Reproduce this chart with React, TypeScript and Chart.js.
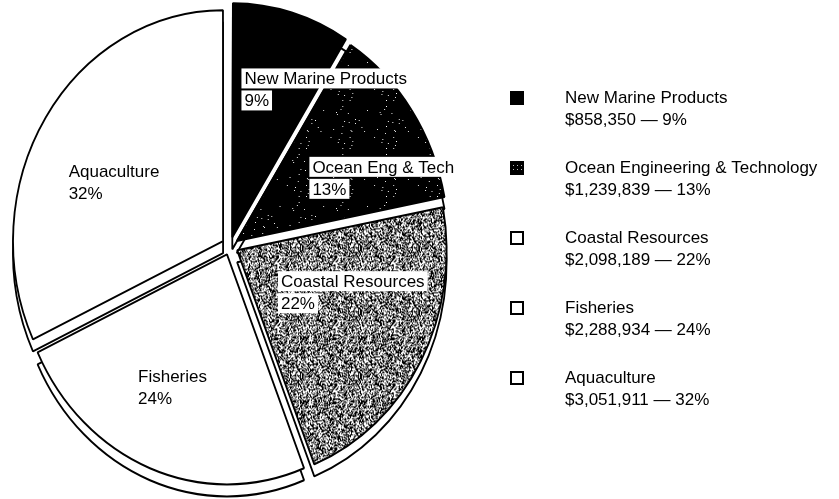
import React, { useEffect, useRef } from 'react';
import { Chart, registerables } from 'chart.js';

Chart.register(...registerables);

// ---- data ----
const categories = [
  'New Marine Products',
  'Ocean Engineering & Technology',
  'Coastal Resources',
  'Fisheries',
  'Aquaculture',
];
const sliceLabels = ['New Marine Products', 'Ocean Eng & Tech', 'Coastal Resources', 'Fisheries', 'Aquaculture'];
const fundingValues = [858350, 1239839, 2098189, 2288934, 3051911];

// ---- styling / layout ----
const FONT = '17px "Liberation Sans", Arial, Helvetica, sans-serif';
const X_SCALE = 0.91;
const DEPTH = 12;
const OFFSET_PX = 9;
const LINE_H = 22;
// label placement inside slices: t = fraction along slice angle, r = fraction of radius
const LABEL_LAYOUT = [
  { t: 1.046, r: 0.82 },
  { t: 0.76, r: 0.79 },
  { t: 0.375, r: 0.62 },
  { t: 0.53, r: 0.67 },
  { t: 0.45, r: 0.62 },
];
const LEGEND = { boxX: 510, textX: 565, firstBaseline: 103, step: 70, box: 14 };

function hash(x: number, y: number, seed: number) {
  let h = (Math.imul(x, 374761393) + Math.imul(y, 668265263) + Math.imul(seed, 1442695041)) | 0;
  h = Math.imul(h ^ (h >>> 13), 1274126177);
  h = h ^ (h >>> 16);
  return (h >>> 0) / 4294967295;
}

function makePattern(ctx: CanvasRenderingContext2D, size: number, seed: number, blackProb: number) {
  const c = document.createElement('canvas');
  c.width = size;
  c.height = size;
  const g = c.getContext('2d')!;
  const img = g.createImageData(size, size);
  for (let y = 0; y < size; y++) {
    for (let x = 0; x < size; x++) {
      const v = hash(x, y, seed) < blackProb ? 0 : 255;
      const k = (y * size + x) * 4;
      img.data[k] = v;
      img.data[k + 1] = v;
      img.data[k + 2] = v;
      img.data[k + 3] = 255;
    }
  }
  g.putImageData(img, 0, 0);
  return ctx.createPattern(c, 'repeat')!;
}

function makeDotPattern(ctx: CanvasRenderingContext2D) {
  const c = document.createElement('canvas');
  c.width = 4;
  c.height = 4;
  const g = c.getContext('2d')!;
  g.fillStyle = '#000';
  g.fillRect(0, 0, 4, 4);
  g.fillStyle = '#bbb';
  g.fillRect(1, 1, 1, 1);
  return ctx.createPattern(c, 'repeat')!;
}

export default function App() {
  const canvasRef = useRef<HTMLCanvasElement | null>(null);

  useEffect(() => {
    const canvas = canvasRef.current;
    if (!canvas) return;
    const ctx0 = canvas.getContext('2d')!;
    const oceanFill = makePattern(ctx0, 48, 7, 0.988);
    const coastalFill = makePattern(ctx0, 64, 3, 0.52);
    const legendOcean = makeDotPattern(ctx0);
    const sliceFills: any[] = ['#000000', oceanFill, coastalFill, '#ffffff', '#ffffff'];
    const legendFills: any[] = ['#000000', legendOcean, '#ffffff', '#ffffff', '#ffffff'];

    const total = fundingValues.reduce((a, b) => a + b, 0);
    const pct = fundingValues.map((v) => Math.round((v / total) * 100));

    const piePlugin = {
      id: 'pie3d',
      beforeDatasetsDraw(chart: any) {
        const meta = chart.getDatasetMeta(0);
        const ctx = chart.ctx as CanvasRenderingContext2D;
        ctx.save();
        if (!meta.data.length) return;
        const cx = meta.data[0].x;
        const cy = meta.data[0].y;
        ctx.translate(cx, cy);
        ctx.scale(X_SCALE, 1);
        ctx.translate(-cx, -cy);
        // depth (side) faces
        ctx.save();
        ctx.translate(0, DEPTH);
        meta.data.forEach((el: any) => {
          const o = el.options;
          el.options = Object.assign({}, o, { backgroundColor: '#ffffff' });
          el.draw(ctx);
          el.options = o;
        });
        ctx.restore();
      },
      afterDatasetsDraw(chart: any) {
        const ctx = chart.ctx as CanvasRenderingContext2D;
        ctx.restore();
        const meta = chart.getDatasetMeta(0);
        ctx.save();
        ctx.font = FONT;
        ctx.textBaseline = 'alphabetic';
        ctx.textAlign = 'left';
        // slice labels
        meta.data.forEach((el: any, i: number) => {
          const { x, y, startAngle, endAngle, outerRadius } = el;
          const lay = LABEL_LAYOUT[i];
          const th = startAngle + lay.t * (endAngle - startAngle);
          const px = x + Math.cos(th) * lay.r * outerRadius * X_SCALE;
          const py = y + Math.sin(th) * lay.r * outerRadius;
          const lines = [sliceLabels[i], pct[i] + '%'];
          const widths = lines.map((l) => ctx.measureText(l).width);
          const w = Math.max(...widths);
          const left = px - w / 2;
          const b1 = py - 5;
          lines.forEach((l, j) => {
            const b = b1 + j * LINE_H;
            ctx.fillStyle = '#ffffff';
            ctx.fillRect(left - 3, b - 16, widths[j] + 6, 20);
            ctx.fillStyle = '#000000';
            ctx.fillText(l, left, b);
          });
        });
        // legend
        categories.forEach((name, i) => {
          const b = LEGEND.firstBaseline + i * LEGEND.step;
          const by = b - 12;
          ctx.fillStyle = legendFills[i];
          ctx.fillRect(LEGEND.boxX, by, LEGEND.box, LEGEND.box);
          ctx.strokeStyle = '#000';
          ctx.lineWidth = 2;
          ctx.strokeRect(LEGEND.boxX + 1, by + 1, LEGEND.box - 2, LEGEND.box - 2);
          ctx.fillStyle = '#000';
          ctx.fillText(name, LEGEND.textX, b);
          ctx.fillText('$' + fundingValues[i].toLocaleString('en-US') + ' \u2014 ' + pct[i] + '%', LEGEND.textX, b + LINE_H);
        });
        ctx.restore();
      },
    };

    const chart = new Chart(canvas, {
      type: 'pie',
      data: {
        labels: categories,
        datasets: [
          {
            data: fundingValues,
            backgroundColor: sliceFills,
            borderColor: '#000000',
            borderWidth: 2,
            offset: OFFSET_PX * 4,
            radius: 230,
            clip: false,
          } as any,
        ],
      },
      options: {
        responsive: false,
        animation: false,
        events: [],
        layout: { padding: { left: 0, top: 0, right: 379, bottom: 7 } },
        plugins: {
          legend: { display: false },
          tooltip: { enabled: false },
          title: { display: false },
        },
      },
      plugins: [piePlugin],
    });

    return () => chart.destroy();
  }, []);

  return (
    <div style={{ position: 'fixed', left: 0, top: 0, width: 839, height: 499, background: '#fff' }}>
      <canvas ref={canvasRef} width={839} height={499} style={{ display: 'block', width: 839, height: 499 }} />
    </div>
  );
}
